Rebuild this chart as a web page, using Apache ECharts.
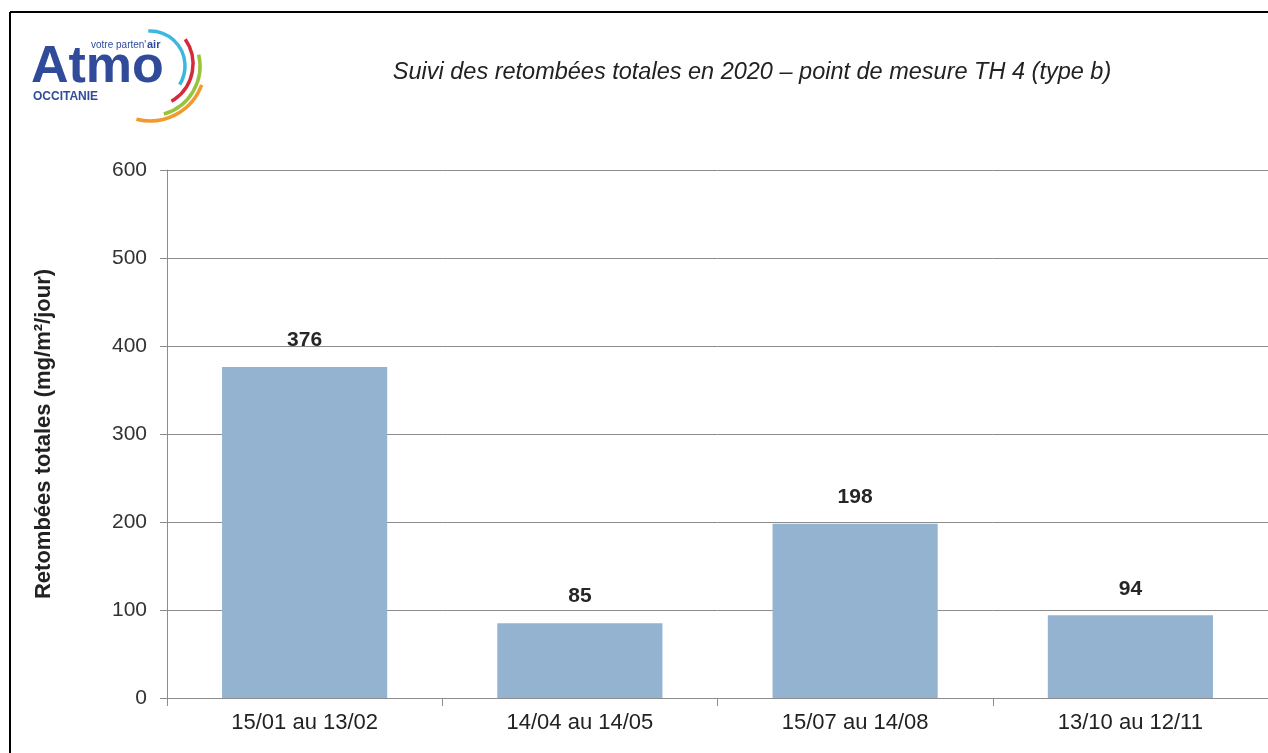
<!DOCTYPE html>
<html>
<head>
<meta charset="utf-8">
<script src="https://cdn.jsdelivr.net/npm/echarts@6/dist/echarts.min.js"></script>
<style>
html,body{margin:0;padding:0;background:#fff;}
#c{width:1268px;height:753px;}
</style>
</head>
<body>
<div id="c"></div>
<script>
const categories = ['15/01 au 13/02', '14/04 au 14/05', '15/07 au 14/08', '13/10 au 12/11'];
const values = [376, 85, 198, 94];
const yTicks = [0, 100, 200, 300, 400, 500, 600];
const titleText = 'Suivi des retombées totales en 2020 – point de mesure TH 4 (type b)';
const yAxisName = 'Retombées totales (mg/m²/jour)';

const fam = '"Liberation Sans", Arial, sans-serif';
const chart = echarts.init(document.getElementById('c'), null, {renderer: 'canvas'});
chart.setOption({
  backgroundColor: '#ffffff',
  animation: false,
  title: {
    text: titleText,
    left: 747, top: 56, textAlign: 'center',
    textStyle: {fontFamily: fam, fontStyle: 'italic', fontWeight: 'normal', fontSize: 23.5, color: '#222'}
  },
  grid: {left: 167, right: -3, top: 170, bottom: 55, containLabel: false},
  xAxis: {
    type: 'category',
    data: categories,
    axisLine: {lineStyle: {color: '#8c8c8c', width: 1}},
    axisTick: {show: true, length: 8, alignWithLabel: false, lineStyle: {color: '#8c8c8c'}},
    axisLabel: {fontFamily: fam, fontSize: 22, color: '#222', margin: 14}
  },
  yAxis: {
    type: 'value',
    min: yTicks[0], max: yTicks[yTicks.length - 1], interval: 100,
    name: yAxisName,
    nameLocation: 'middle',
    nameGap: 112,
    nameRotate: 90,
    nameTextStyle: {fontFamily: fam, fontWeight: 'bold', fontSize: 22, color: '#222'},
    axisLine: {show: true, lineStyle: {color: '#8c8c8c', width: 1}},
    axisTick: {show: true, length: 7, lineStyle: {color: '#8c8c8c'}},
    axisLabel: {fontFamily: fam, fontSize: 21, color: '#333', margin: 20},
    splitLine: {show: true, lineStyle: {color: '#8c8c8c', width: 1}}
  },
  series: [{
    type: 'bar',
    data: values,
    barWidth: '60%',
    itemStyle: {color: '#93b3d1'},
    label: {show: true, position: 'top', distance: 16, fontFamily: fam, fontWeight: 'bold', fontSize: 21, color: '#262626'}
  }],
  graphic: [
    {type: 'line', shape: {x1: 10, y1: 12, x2: 1268, y2: 12}, style: {stroke: '#000', lineWidth: 2}, z: 100},
    {type: 'line', shape: {x1: 10, y1: 12, x2: 10, y2: 753}, style: {stroke: '#000', lineWidth: 2}, z: 100},
    {type: 'text', left: 31, top: 42, style: {text: 'Atmo', font: 'bold 52px "Liberation Sans", Arial, sans-serif', fill: '#2f4b9a'}},
    {type: 'text', left: 91, top: 40, style: {text: "votre parten'", font: '10px "Liberation Sans", Arial, sans-serif', fill: '#2f4b9a'}},
    {type: 'text', left: 147, top: 39, style: {text: 'air', font: 'bold 11px "Liberation Sans", Arial, sans-serif', fill: '#2f4b9a'}},
    {type: 'text', left: 33, top: 91, style: {text: 'OCCITANIE', font: 'bold 12px "Liberation Sans", Arial, sans-serif', fill: '#2f4b9a'}},
    {type: 'arc', shape: {cx: 150, cy: 66, r: 35, startAngle: -1.62, endAngle: 0.56}, style: {stroke: '#3cb8e0', lineWidth: 3.5, fill: null}},
    {type: 'arc', shape: {cx: 150, cy: 64, r: 43, startAngle: -0.61, endAngle: 1.05}, style: {stroke: '#d62a3c', lineWidth: 3.5, fill: null}},
    {type: 'arc', shape: {cx: 150, cy: 66, r: 50, startAngle: -0.23, endAngle: 1.29}, style: {stroke: '#9ac33c', lineWidth: 3.5, fill: null}},
    {type: 'arc', shape: {cx: 150, cy: 66, r: 55, startAngle: 0.35, endAngle: 1.82}, style: {stroke: '#f29a2e', lineWidth: 3.5, fill: null}}
  ]
});
</script>
</body>
</html>
